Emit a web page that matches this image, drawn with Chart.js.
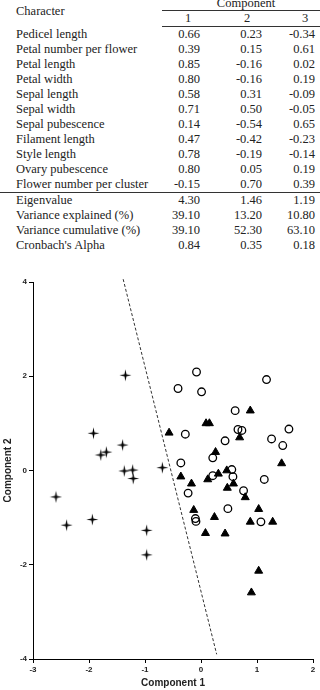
<!DOCTYPE html>
<html>
<head>
<meta charset="utf-8">
<script src="https://cdn.jsdelivr.net/npm/chart.js@4.4.0/dist/chart.umd.min.js"></script>
<style>
    html, body { margin: 0; padding: 0; background: #fff; }
    body { width: 320px; height: 690px; position: relative; overflow: hidden; }
    #tbl {
        position: absolute; left: 0; top: -4px; width: 320px;
        border-collapse: collapse; table-layout: fixed;
        font-family: "Liberation Serif", "Times New Roman", serif;
        font-size: 12.5px; color: #222;
    }
    #tbl td { padding: 0; height: 15px; line-height: 15px; white-space: nowrap; }
    #tbl .lab { padding-left: 16px; }
    #tbl .n1 { text-align: right; padding-right: 10px; }
    #tbl .n2 { text-align: right; padding-right: 6px; }
    #tbl .n3 { text-align: right; padding-right: 5px; }
    #tbl .h1 { text-align: center; padding-left: 4px; }
    #tbl .h2 { text-align: center; padding-left: 16px; }
    #tbl .h3 { text-align: center; padding-left: 22px; }
    #tbl .comp { text-align: center; padding-left: 10px; border-bottom: 1px solid #333; height: 14px; line-height: 14px; }
    #tbl tr.hd td { border-bottom: 1px solid #333; }
    #tbl tr.sep td { border-bottom: 1px solid #333; }
    #wrap { position: absolute; left: 0; top: 260px; width: 320px; height: 430px; }
</style>
</head>
<body>
<table id="tbl">
    <colgroup><col style="width:162px"><col style="width:48px"><col style="width:58px"><col style="width:52px"></colgroup>
    <tbody id="tbody"></tbody>
</table>
<div id="wrap"><canvas id="chart"></canvas></div>
<script>
// table values
const characters = ['Pedicel length', 'Petal number per flower', 'Petal length', 'Petal width',
    'Sepal length', 'Sepal width', 'Sepal pubescence', 'Filament length', 'Style length',
    'Ovary pubescence', 'Flower number per cluster'];
const comp1 = ['0.66', '0.39', '0.85', '0.80', '0.58', '0.71', '0.14', '0.47', '0.78', '0.80', '-0.15'];
const comp2 = ['0.23', '0.15', '-0.16', '-0.16', '0.31', '0.50', '-0.54', '-0.42', '-0.19', '0.05', '0.70'];
const comp3 = ['-0.34', '0.61', '0.02', '0.19', '-0.09', '-0.05', '0.65', '-0.23', '-0.14', '0.19', '0.39'];
const summaryLabels = ['Eigenvalue', 'Variance explained (%)', 'Variance cumulative (%)', "Cronbach's Alpha"];
const summary1 = ['4.30', '39.10', '39.10', '0.84'];
const summary2 = ['1.46', '13.20', '52.30', '0.35'];
const summary3 = ['1.19', '10.80', '63.10', '0.18'];

// scatter values (Component 1, Component 2)
const groupStar = [[-1.35, 2.02], [-1.92, 0.79], [-1.40, 0.54], [-1.79, 0.33], [-1.69, 0.39],
    [-1.37, -0.01], [-1.22, 0.01], [-1.21, -0.17], [-0.69, 0.06], [-2.59, -0.56],
    [-2.40, -1.16], [-1.94, -1.04], [-0.97, -1.27], [-0.97, -1.79]];
const groupCircle = [[-0.08, 2.09], [-0.41, 1.74], [0.01, 1.67], [1.17, 1.93], [0.61, 1.27],
    [-0.28, 0.77], [0.43, 0.63], [0.66, 0.87], [0.73, 0.85], [1.57, 0.88], [1.26, 0.67],
    [1.46, 0.53], [-0.36, 0.16], [0.21, 0.27], [0.21, -0.11], [0.55, 0.02], [0.57, -0.13],
    [1.13, -0.19], [-0.23, -0.48], [0.76, -0.43], [0.48, -0.81], [-0.10, -1.02],
    [-0.09, -1.08], [1.07, -1.09]];
const groupTriangle = [[-0.57, 0.80], [0.09, 1.00], [0.15, 1.00], [0.88, 1.27], [0.69, 0.70],
    [0.26, 0.39], [-0.36, -0.13], [-0.17, -0.28], [0.12, -0.19], [0.31, -0.07], [0.46, 0.00],
    [0.47, -0.37], [0.58, -0.28], [0.79, -0.57], [1.44, 0.15], [-0.13, -0.84], [0.24, -0.99],
    [0.08, -1.33], [0.43, -1.34], [1.03, -0.82], [0.88, -1.09], [1.28, -1.09], [1.03, -2.13],
    [0.90, -2.59]];
const dividerLine = [[-1.39, 4.06], [0.28, -3.90]];

const xTicks = [-3, -2, -1, 0, 1, 2];
const yTicks = [-4, -2, 0, 2, 4];

// build the table
const tbody = document.getElementById('tbody');
let html = '<tr><td class="lab" rowspan="2" style="vertical-align:middle">Character</td>' +
    '<td class="comp" colspan="3">Component</td></tr>';
html += '<tr class="hd"><td class="h1">1</td><td class="h2">2</td><td class="h3">3</td></tr>';
characters.forEach((c, i) => {
    const cls = i === characters.length - 1 ? ' class="sep"' : '';
    html += '<tr' + cls + '><td class="lab">' + c + '</td><td class="n1">' + comp1[i] +
        '</td><td class="n2">' + comp2[i] + '</td><td class="n3">' + comp3[i] + '</td></tr>';
});
summaryLabels.forEach((c, i) => {
    html += '<tr><td class="lab">' + c + '</td><td class="n1">' + summary1[i] +
        '</td><td class="n2">' + summary2[i] + '</td><td class="n3">' + summary3[i] + '</td></tr>';
});
tbody.innerHTML = html;

// four point star marker
function makeStar() {
    const c = document.createElement('canvas');
    c.width = 13; c.height = 13;
    const g = c.getContext('2d');
    const cx = 6.5, cy = 6.5, ro = 6, ri = 1.4;
    g.beginPath();
    for (let k = 0; k < 8; k++) {
        const a = k * Math.PI / 4 - Math.PI / 2;
        const r = k % 2 === 0 ? ro : ri;
        const px = cx + Math.cos(a) * r, py = cy + Math.sin(a) * r;
        if (k === 0) g.moveTo(px, py); else g.lineTo(px, py);
    }
    g.closePath();
    g.fillStyle = '#000';
    g.fill();
    return c;
}

const toXY = arr => arr.map(p => ({ x: p[0], y: p[1] }));
const tickFont = { family: '"Liberation Sans", Arial, sans-serif', size: 8, weight: 'bold' };
const titleFont = { family: '"Liberation Sans", Arial, sans-serif', size: 10, weight: 'bold' };

new Chart(document.getElementById('chart').getContext('2d'), {
    type: 'scatter',
    data: {
        datasets: [
            {
                data: toXY(groupCircle),
                pointStyle: 'circle',
                pointRadius: 3.8,
                borderColor: '#000',
                backgroundColor: 'rgba(0,0,0,0)',
                borderWidth: 1.3
            },
            {
                data: toXY(groupTriangle),
                pointStyle: 'triangle',
                pointRadius: 4.6,
                borderColor: '#000',
                backgroundColor: '#000',
                borderWidth: 1
            },
            {
                data: toXY(groupStar),
                pointStyle: makeStar(),
                pointRadius: 6
            },
            {
                type: 'line',
                data: toXY(dividerLine),
                borderColor: '#333',
                borderWidth: 1,
                borderDash: [3, 2],
                pointRadius: 0,
                fill: false,
                clip: false
            }
        ]
    },
    options: {
        responsive: true,
        maintainAspectRatio: false,
        animation: false,
        layout: { padding: { top: 22, right: 7, left: 0, bottom: 0 } },
        plugins: {
            legend: { display: false },
            tooltip: { enabled: false }
        },
        scales: {
            x: {
                type: 'linear',
                min: -3,
                max: 2,
                afterBuildTicks: s => { s.ticks = xTicks.map(v => ({ value: v })); },
                afterFit: s => { s.height = 31; },
                grid: { drawOnChartArea: false, drawTicks: true, tickLength: 4, color: '#000' },
                border: { display: true, color: '#000', width: 1 },
                ticks: { color: '#222', font: tickFont, padding: 2, maxRotation: 0 },
                title: { display: true, text: 'Component 1', color: '#222', font: titleFont, padding: { top: 0, bottom: 1 } }
            },
            y: {
                type: 'linear',
                min: -4,
                max: 4,
                afterBuildTicks: s => { s.ticks = yTicks.map(v => ({ value: v })); },
                afterFit: s => { s.width = 33; },
                grid: { drawOnChartArea: false, drawTicks: true, tickLength: 4, color: '#000' },
                border: { display: true, color: '#000', width: 1 },
                ticks: { color: '#222', font: tickFont, padding: 2 },
                title: { display: true, text: 'Component 2', color: '#222', font: titleFont, padding: { top: 2, bottom: 0 } }
            }
        }
    }
});
</script>
</body>
</html>
